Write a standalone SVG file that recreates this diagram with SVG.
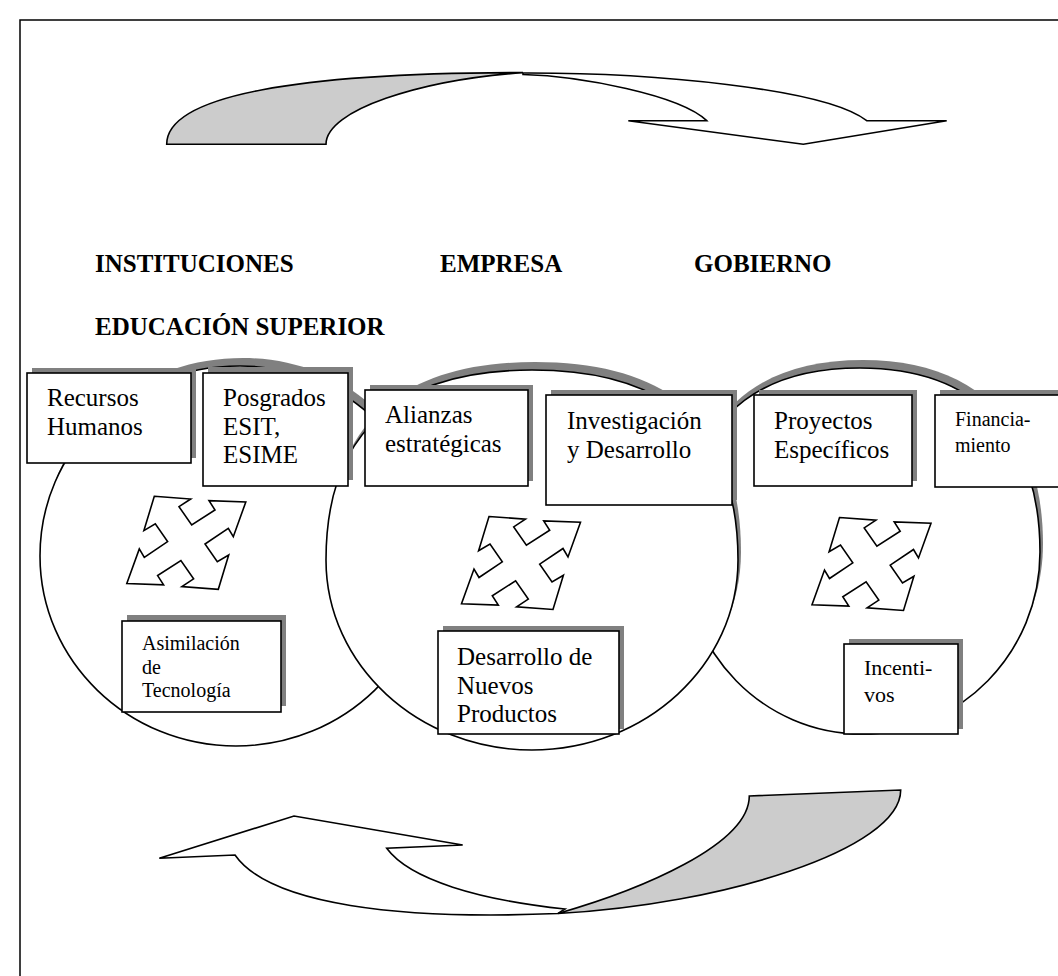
<svg xmlns="http://www.w3.org/2000/svg" width="1058" height="976" viewBox="0 0 1058 976">
<defs>
<style>
.sh{fill:#808080;stroke:none}
.bx{fill:#fff;stroke:#000;stroke-width:1.6}
.cw{fill:#fff;stroke:#000;stroke-width:1.6}
.ar{fill:#fff;stroke:#000;stroke-width:1.6;stroke-linejoin:miter}
.gr{fill:#cccccc;stroke:#000;stroke-width:1.6}
.t{font-family:"Liberation Serif","Times New Roman",serif;font-size:25px;fill:#000}
.ts{font-family:"Liberation Serif","Times New Roman",serif;font-size:20px;fill:#000}
.h{font-family:"Liberation Serif","Times New Roman",serif;font-size:25px;font-weight:bold;fill:#000}
</style>
<path id="quad" d="M-32,-46.5 L4.4,-43.8 L-7.3,-36.1 L5.4,-17.8 L28.7,-32.8 L22.7,-42.1 L59.5,-40.8 L47,-6.1 L42,-14.5 L18.7,1.2 L31,18.9 L42.4,12.2 L32,46.5 L-4.4,43.8 L7.3,36.1 L-5.4,17.8 L-28.7,32.8 L-22.7,42.1 L-59.5,40.8 L-47,6.1 L-42,14.5 L-18.7,-1.2 L-31,-18.9 L-42.4,-12.2 Z"/>
<path id="c1" d="M40,556 C40,451 125,366 240,366 C350,366 432,451 432,556 C432,660.9 344.2,746 236,746 C127.8,746 40,660.9 40,556 Z"/>
<path id="c3" d="M684,552 C684,430 745,368 860,368 C975,368 1040,435 1040,552 C1040,652.5 960.3,734 862,734 C763.7,734 684,652.5 684,552 Z"/>
<path id="c2" d="M326,560 C326,430 400,370 532,370 C665,370 738,430 738,560 C738,664.9 645.7,750 532,750 C418.3,750 326,664.9 326,560 Z"/>
</defs>
<rect x="0" y="0" width="1058" height="976" fill="#fff"/>
<rect x="20" y="20" width="1060" height="980" fill="none" stroke="#000" stroke-width="1.5"/>

<g id="circle-ies">
<use href="#c1" class="sh" transform="translate(3,-8)"/>
<use href="#c1" class="cw"/>
</g>
<g id="circle-gobierno">
<use href="#c3" class="sh" transform="translate(3,-8)"/>
<use href="#c3" class="cw"/>
</g>
<g id="circle-empresa">
<use href="#c2" class="sh" transform="translate(3,-8)"/>
<use href="#c2" class="cw"/>
</g>

<g id="connectors">
<g id="top-arrow">
<path class="ar" d="M523,73 C650,72.6 825,88 866.7,120.7 L946.7,120.7 L803.3,144.3 L628.3,120.7 L706.7,120.7 C680,95 580,76 523,74.5 Z"/>
<path class="gr" d="M166.7,144.3 C166.7,95 300,72.6 523,72.6 C420,80 326,110 326,144.3 Z"/>
</g>
<g id="bottom-arrow">
<path class="ar" d="M558,913.5 C400,920 270,905 235,855 L159.3,858.3 L294,816 L462.7,845 L386.7,848.3 C410,880 480,900 565,909 Z"/>
<path class="gr" d="M749.3,796 L900.7,790 C900.7,850 720,905 558,913.5 C640,890 749.3,845 749.3,796 Z"/>
</g>
<use href="#quad" class="ar" transform="translate(186.3,542.8)"/>
<use href="#quad" class="ar" transform="translate(521,563)"/>
<use href="#quad" class="ar" transform="translate(871.5,564)"/>
</g>

<g id="headers">
<text class="h" x="95" y="272">INSTITUCIONES</text>
<text class="h" x="440" y="272">EMPRESA</text>
<text class="h" x="694" y="272">GOBIERNO</text>
<text class="h" x="95" y="335">EDUCACIÓN SUPERIOR</text>
</g>

<g id="recursos">
<rect class="sh" x="32" y="368" width="164" height="90"/>
<rect class="bx" x="27" y="373" width="164" height="90"/>
<text class="t" x="47" y="406">Recursos</text>
<text class="t" x="47" y="434.5">Humanos</text>
</g>
<g id="posgrados">
<rect class="sh" x="208" y="367" width="145" height="113"/>
<rect class="bx" x="203" y="373" width="145" height="113"/>
<text class="t" x="223" y="406">Posgrados</text>
<text class="t" x="223" y="434.5">ESIT,</text>
<text class="t" x="223" y="463">ESIME</text>
</g>
<g id="alianzas">
<rect class="sh" x="370" y="385" width="163" height="96"/>
<rect class="bx" x="365" y="390" width="163" height="96"/>
<text class="t" x="385" y="423">Alianzas</text>
<text class="t" x="385" y="451.5">estratégicas</text>
</g>
<g id="investigacion">
<rect class="sh" x="551" y="390" width="186" height="110"/>
<rect class="bx" x="546" y="395" width="186" height="110"/>
<text class="t" x="567" y="429">Investigación</text>
<text class="t" x="567" y="458">y Desarrollo</text>
</g>
<g id="proyectos">
<rect class="sh" x="759" y="390" width="158" height="91"/>
<rect class="bx" x="754" y="395" width="158" height="91"/>
<text class="t" x="774" y="429">Proyectos</text>
<text class="t" x="774" y="458">Específicos</text>
</g>
<g id="financiamiento">
<rect class="sh" x="940" y="390" width="140" height="92"/>
<rect class="bx" x="935" y="395" width="140" height="92"/>
<text class="ts" x="955" y="426">Financia-</text>
<text class="ts" x="955" y="452">miento</text>
</g>
<g id="asimilacion">
<rect class="sh" x="127" y="615" width="159" height="91"/>
<rect class="bx" x="122" y="621" width="159" height="91"/>
<text class="ts" x="142" y="650">Asimilación</text>
<text class="ts" x="142" y="674">de</text>
<text class="ts" x="142" y="697">Tecnología</text>
</g>
<g id="desarrollo">
<rect class="sh" x="443" y="626" width="181" height="103"/>
<rect class="bx" x="438" y="631" width="181" height="103"/>
<text class="t" x="457" y="665">Desarrollo de</text>
<text class="t" x="457" y="693.5">Nuevos</text>
<text class="t" x="457" y="722">Productos</text>
</g>
<g id="incentivos">
<rect class="sh" x="849" y="639" width="114" height="90"/>
<rect class="bx" x="844" y="644" width="114" height="90"/>
<text class="t" x="864" y="675" style="font-size:22px">Incenti-</text>
<text class="t" x="864" y="702" style="font-size:22px">vos</text>
</g>
</svg>
